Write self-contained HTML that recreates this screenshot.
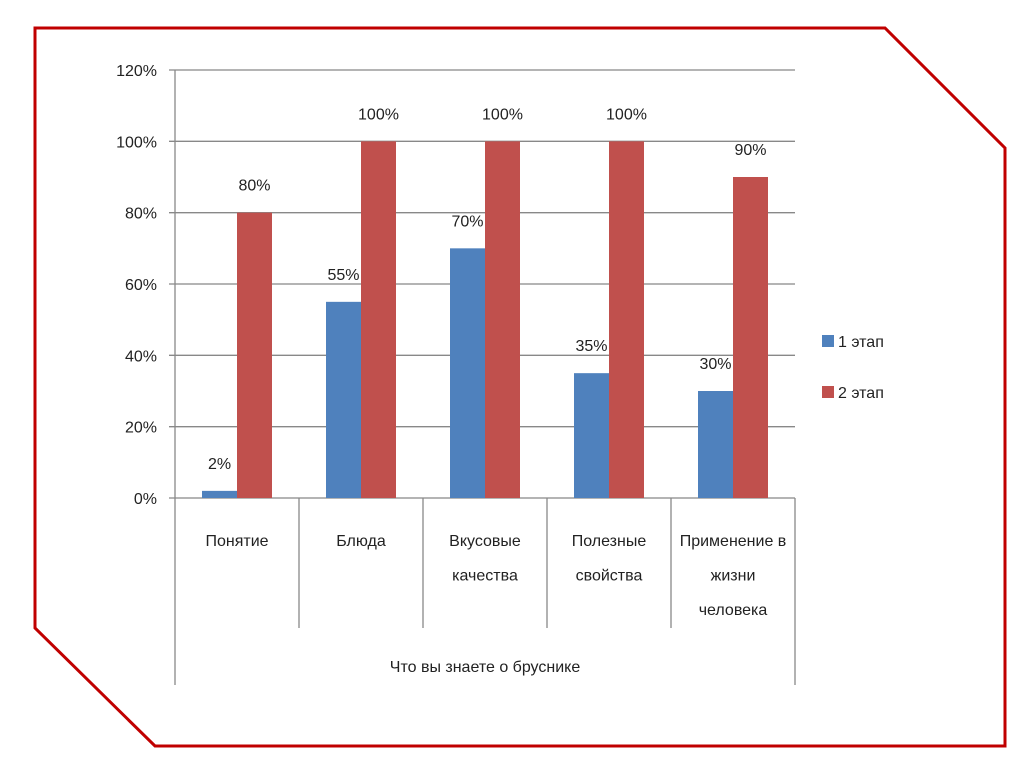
<!DOCTYPE html>
<html><head><meta charset="utf-8"><style>
body{margin:0;background:#fff;}
svg{display:block;font-family:"Liberation Sans Narrow","Liberation Sans",sans-serif;}
</style></head><body>
<svg id="c" width="1024" height="767">
<polygon points="35,28 885,28 1005,148 1005,746 155,746 35,628" fill="none" stroke="#c00000" stroke-width="3"/>
</svg>
<script>
const categories=[["Понятие"],["Блюда"],["Вкусовые","качества"],["Полезные","свойства"],["Применение в","жизни","человека"]];
const stage1=[2,55,70,35,30];
const stage2=[80,100,100,100,90];
const ticks=[0,20,40,60,80,100,120];
const seriesNames=["1 этап","2 этап"];
const colors=["#4F81BD","#C0504D"];
const svg=document.getElementById('c');const NS="http://www.w3.org/2000/svg";
const x0=175,x1=795,yTop=70,yBot=498,maxV=120;
const y=v=>yBot-(v/maxV)*(yBot-yTop);
const gw=(x1-x0)/categories.length;
function mk(t,a,txt){const e=document.createElementNS(NS,t);for(const k in a)e.setAttribute(k,a[k]);if(txt!==undefined)e.textContent=txt;svg.appendChild(e);return e;}
ticks.forEach(t=>{
 const g=mk('line',{x1:t===0?169:169,x2:x1,y1:y(t),y2:y(t),stroke:t===0?'#888':'#888','stroke-width':1.3});
 
 
 const l=mk('text',{x:157,y:y(t)+6,'text-anchor':'end','font-size':16,fill:'#222'},t+'%');
 
 
});
const ax=mk('line',{x1:x0,x2:x0,y1:yTop,y2:685,stroke:'#888','stroke-width':1.3});


const ax2=mk('line',{x1:x1,x2:x1,y1:yBot,y2:685,stroke:'#888','stroke-width':1.3});


for(let i=1;i<categories.length;i++){
 const d=mk('line',{x1:x0+gw*i,x2:x0+gw*i,y1:yBot,y2:628,stroke:'#888','stroke-width':1.3});
 
 
}
const bw=35;
[stage1,stage2].forEach((s,si)=>{
 s.forEach((v,i)=>{
  const bx=x0+gw*i+27+si*bw;
  const r=mk('rect',{x:bx,y:y(v),width:bw,height:yBot-y(v),fill:colors[si]});
  
  
  const t=mk('text',{x:bx+bw/2,y:y(v)-22,'text-anchor':'middle','font-size':16,fill:'#222'},v+'%');
  
  
 });
});
categories.forEach((lines,i)=>{
 lines.forEach((ln,j)=>{
  const t=mk('text',{x:x0+gw*i+gw/2,y:546+j*34.5,'text-anchor':'middle','font-size':16,fill:'#222'},ln);
  
  
 });
});
const at=mk('text',{x:485,y:672,'text-anchor':'middle','font-size':16,fill:'#222'},'Что вы знаете о бруснике');


seriesNames.forEach((n,i)=>{
 const r=mk('rect',{x:822,y:335+i*51,width:12,height:12,fill:colors[i]});
 
 
 const t=mk('text',{x:838,y:347+i*51,'font-size':16,fill:'#222'},n);
 
 
});
</script>
</body></html>
